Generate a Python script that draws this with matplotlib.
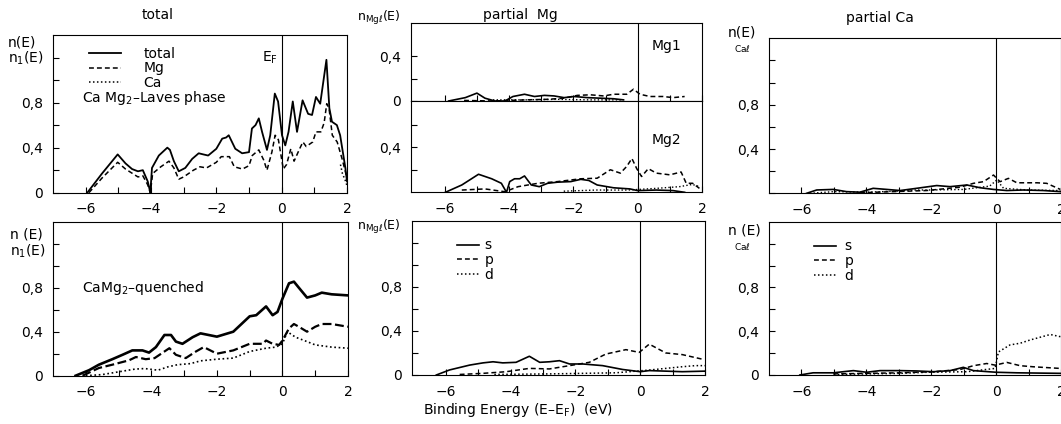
import matplotlib
matplotlib.use('Agg')
import matplotlib.pyplot as plt
from matplotlib.lines import Line2D

W, H = 1061, 424

# ---- total DOS, CaMg2 Laves phase (top left)
laves_tot_x = [-5.95, -5.5, -5.02, -4.78, -4.58, -4.4, -4.25, -4.1, -4.02, -3.97, -3.76, -3.5, -3.42, -3.3,
               -3.15, -2.95, -2.74, -2.54, -2.4, -2.25, -2.0, -1.82, -1.7, -1.62, -1.42, -1.21, -1.0, -0.91,
               -0.8, -0.7, -0.6, -0.45, -0.35, -0.21, -0.11, 0.01, 0.11, 0.21, 0.34, 0.47, 0.64, 0.81, 0.93,
               1.05, 1.18, 1.37, 1.46, 1.54, 1.69, 1.79, 1.95, 2.0]
laves_tot_y = [0.0, 0.17, 0.34, 0.26, 0.21, 0.19, 0.2, 0.1, 0.0, 0.22, 0.33, 0.4, 0.38, 0.28,
               0.19, 0.22, 0.3, 0.35, 0.34, 0.33, 0.39, 0.48, 0.49, 0.51, 0.39, 0.35, 0.36, 0.57,
               0.6, 0.66, 0.54, 0.38, 0.51, 0.88, 0.81, 0.51, 0.42, 0.54, 0.81, 0.54, 0.82, 0.7, 0.69,
               0.85, 0.79, 1.18, 0.75, 0.63, 0.6, 0.51, 0.22, 0.1]
laves_mg_x = [-5.9, -5.5, -5.02, -4.78, -4.4, -4.25, -4.1, -4.02, -3.95, -3.7, -3.45, -3.3, -3.15, -3.0,
              -2.7, -2.5, -2.3, -2.0, -1.85, -1.6, -1.45, -1.2, -1.0, -0.9, -0.7, -0.55, -0.45, -0.3, -0.2,
              -0.1, 0.05, 0.15, 0.28, 0.38, 0.55, 0.65, 0.75, 0.95, 1.05, 1.2, 1.3, 1.38, 1.45, 1.55, 1.7,
              1.85, 2.0]
laves_mg_y = [0.0, 0.13, 0.27, 0.21, 0.14, 0.15, 0.07, 0.0, 0.17, 0.23, 0.28, 0.22, 0.12, 0.14,
              0.2, 0.23, 0.22, 0.27, 0.32, 0.32, 0.23, 0.21, 0.24, 0.33, 0.38, 0.29, 0.2, 0.36, 0.51,
              0.47, 0.21, 0.25, 0.39, 0.28, 0.39, 0.45, 0.41, 0.45, 0.54, 0.54, 0.62, 0.79, 0.75, 0.51, 0.45,
              0.3, 0.13]
laves_ca_x = [1.8, 1.86, 1.96, 2.0]
laves_ca_y = [0.25, 0.17, 0.1, 0.06]

# ---- total DOS, quenched (bottom left)
q_tot_x = [-6.31, -5.9, -5.6, -5.19, -4.88, -4.58, -4.27, -4.07, -3.86, -3.6, -3.4, -3.25, -3.05, -2.74,
           -2.5, -2.0, -1.5, -1.0, -0.8, -0.5, -0.3, -0.15, 0.0, 0.2, 0.35, 0.5, 0.75, 1.0, 1.2, 1.5, 2.0]
q_tot_y = [0.0, 0.05, 0.1, 0.15, 0.19, 0.23, 0.23, 0.21, 0.26, 0.37, 0.37, 0.31, 0.29, 0.35,
           0.385, 0.355, 0.4, 0.54, 0.55, 0.63, 0.55, 0.58, 0.7, 0.84, 0.855, 0.8, 0.71, 0.73, 0.755, 0.74, 0.73]
q_mg_x = [-6.1, -5.6, -5.19, -4.68, -4.47, -4.17, -3.9, -3.6, -3.45, -3.25, -2.95, -2.64, -2.4, -2.0,
          -1.5, -1.0, -0.6, -0.5, -0.3, -0.1, 0.0, 0.2, 0.35, 0.5, 0.75, 1.0, 1.2, 1.5, 2.0]
q_mg_y = [0.0, 0.07, 0.1, 0.14, 0.17, 0.15, 0.16, 0.22, 0.25, 0.19, 0.16, 0.22, 0.26, 0.2,
          0.23, 0.29, 0.29, 0.32, 0.29, 0.28, 0.32, 0.43, 0.47, 0.445, 0.4, 0.445, 0.47, 0.47, 0.445]
q_ca_x = [-6.0, -5.5, -5.0, -4.5, -4.2, -3.8, -3.5, -3.2, -2.8, -2.5, -2.0, -1.5, -1.0, -0.5, -0.2, 0.0,
          0.15, 0.4, 0.75, 1.0, 1.5, 2.0]
q_ca_y = [0.0, 0.01, 0.035, 0.06, 0.065, 0.05, 0.08, 0.1, 0.11, 0.135, 0.15, 0.16, 0.22, 0.25, 0.26, 0.29,
          0.4, 0.35, 0.31, 0.28, 0.26, 0.25]

# ---- partial Mg, Laves phase: Mg1 and Mg2 sites
mg1_s_x = [-5.88, -5.36, -5.0, -4.75, -4.44, -4.13, -3.88, -3.52, -3.21, -2.9, -2.6, -2.29, -1.98, -1.57,
           -1.16, -0.75, -0.44]
mg1_s_y = [0.0, 0.03, 0.07, 0.025, 0.0, 0.0, 0.04, 0.06, 0.04, 0.05, 0.045, 0.03, 0.04, 0.03,
           0.025, 0.02, 0.01]
mg1_p_x = [-5.4, -4.5, -3.5, -2.8, -2.29, -1.88, -1.47, -1.06, -0.75, -0.34, -0.13, 0.07, 0.38, 0.79,
           1.1, 1.46]
mg1_p_y = [0.005, 0.0, 0.01, 0.015, 0.025, 0.05, 0.055, 0.045, 0.06, 0.06, 0.105, 0.06, 0.04, 0.04,
           0.03, 0.04]
mg1_d_x = [-4.5, -3.5, -2.5, -1.5, -0.5]
mg1_d_y = [0.01, 0.01, 0.015, 0.01, 0.01]
mg2_s_x = [-5.98, -5.47, -4.95, -4.54, -4.24, -4.08, -3.98, -3.83, -3.67, -3.52, -3.31, -3.06, -2.8, -2.49,
           -2.08, -1.77, -1.52, -1.26, -0.75, -0.24, 0.0, 0.58, 1.1, 1.46]
mg2_s_y = [0.0, 0.065, 0.16, 0.12, 0.08, 0.0, 0.095, 0.12, 0.12, 0.145, 0.065, 0.05, 0.08, 0.09,
           0.095, 0.115, 0.105, 0.065, 0.04, 0.03, 0.015, 0.02, 0.015, 0.0]
mg2_p_x = [-5.47, -4.75, -4.13, -3.72, -3.1, -2.49, -1.77, -1.26, -0.85, -0.54, -0.34, -0.18, -0.03, 0.12,
           0.33, 0.58, 1.0, 1.35, 1.51, 1.71, 1.92]
mg2_p_y = [0.02, 0.03, 0.005, 0.05, 0.08, 0.095, 0.12, 0.125, 0.2, 0.17, 0.23, 0.3, 0.21, 0.14,
           0.21, 0.17, 0.155, 0.18, 0.08, 0.08, 0.035]
mg2_d_x = [-2.3, -1.3, -0.3, 0.58, 1.3, 1.7, 1.92]
mg2_d_y = [0.01, 0.02, 0.02, 0.035, 0.05, 0.07, 0.05]

# ---- partial Mg, quenched
qmg_s_x = [-6.29, -5.88, -5.57, -5.26, -4.85, -4.54, -4.24, -3.83, -3.42, -3.1, -2.8, -2.49, -2.18, -1.77,
           -1.16, -0.54, 0.0, 0.28, 1.3, 2.0]
qmg_s_y = [0.0, 0.046, 0.068, 0.09, 0.11, 0.12, 0.11, 0.115, 0.17, 0.115, 0.12, 0.13, 0.1, 0.1,
           0.085, 0.05, 0.03, 0.04, 0.03, 0.035]
qmg_p_x = [-5.57, -4.85, -4.13, -3.42, -2.8, -2.18, -1.57, -1.06, -0.44, -0.03, 0.28, 0.79, 1.3, 1.97]
qmg_p_y = [0.005, 0.015, 0.03, 0.06, 0.055, 0.085, 0.115, 0.19, 0.23, 0.205, 0.28, 0.2, 0.185, 0.14]
qmg_d_x = [-4.5, -2.8, -0.75, 0.28, 1.3, 1.7, 2.0]
qmg_d_y = [0.005, 0.01, 0.02, 0.045, 0.075, 0.085, 0.085]

# ---- partial Ca, Laves phase
ca_s_x = [-5.84, -5.53, -5.02, -4.61, -4.2, -3.79, -3.37, -2.96, -2.45, -1.83, -1.42, -0.9, -0.49, -0.08,
          0.33, 0.84, 1.46, 1.98]
ca_s_y = [0.0, 0.03, 0.035, 0.015, 0.01, 0.045, 0.035, 0.025, 0.045, 0.07, 0.06, 0.075, 0.05, 0.035,
          0.025, 0.03, 0.025, 0.015]
ca_p_x = [-4.2, -2.14, -1.11, -0.7, -0.39, -0.08, 0.12, 0.38, 0.64, 1.26, 1.56, 1.98]
ca_p_y = [0.005, 0.025, 0.055, 0.09, 0.105, 0.165, 0.105, 0.135, 0.095, 0.095, 0.09, 0.035]
ca_d_x = [-5.74, -5.0, -4.0, -3.0, -2.5, -2.0, -1.0, -0.2, 0.02, 0.23, 0.95, 1.98]
ca_d_y = [0.0, 0.015, 0.01, 0.02, 0.03, 0.03, 0.035, 0.065, 0.12, 0.045, 0.03, 0.025]

# ---- partial Ca, quenched
qca_s_x = [-6.05, -5.64, -5.02, -4.4, -3.99, -3.58, -2.96, -2.45, -1.93, -1.42, -1.01, -0.7, 0.0, 0.64, 1.98]
qca_s_y = [0.0, 0.02, 0.02, 0.04, 0.025, 0.04, 0.04, 0.037, 0.03, 0.04, 0.07, 0.04, 0.025, 0.02, 0.015]
qca_p_x = [-5.02, -3.99, -2.96, -1.93, -1.11, -0.7, -0.29, -0.03, 0.33, 0.74, 1.15, 1.98]
qca_p_y = [0.01, 0.015, 0.02, 0.03, 0.05, 0.085, 0.105, 0.09, 0.115, 0.085, 0.075, 0.06]
qca_d_x = [-5.0, -2.96, -2.14, -0.9, -0.03, 0.07, 0.43, 0.74, 1.05, 1.67, 1.98]
qca_d_y = [0.005, 0.015, 0.025, 0.03, 0.06, 0.21, 0.275, 0.29, 0.32, 0.37, 0.35]

DASH = (0, (3.2, 2.0))
DOT = (0, (1.0, 1.6))
FS = 10


def add_ax(fig, left, top, right, bottom):
    # axes box given in pixels of the reference picture
    return fig.add_axes([left / W, 1 - bottom / H, (right - left) / W, (bottom - top) / H])


def style(ax, ymax, xlabels=True, xmin=-7.0):
    ax.set_xlim(xmin, 2)
    ax.set_ylim(0, ymax)
    ax.set_xticks([-6, -4, -2, 0, 2])
    ax.set_xticks([-5, -3, -1, 1], minor=True)
    if xlabels:
        ax.set_xticklabels(['\u22126', '\u22124', '\u22122', '0', '2'])
    else:
        ax.set_xticklabels([])
    ax.tick_params(which='both', direction='in', length=4, width=0.8, labelsize=FS,
                   top=False, right=False, pad=7)
    for s in ax.spines.values():
        s.set_linewidth(0.8)
    ax.axvline(0, color='k', lw=0.8)


fig = plt.figure(figsize=(W / 100, H / 100), dpi=100)
plt.rcParams['font.family'] = 'DejaVu Sans'

# ---------------- total, Laves
ax1 = add_ax(fig, 53, 35, 347, 192.7)
style(ax1, 1.4)
ax1.set_yticks([0, 0.4, 0.8])
ax1.set_yticklabels(['0', '0,4', '0,8'])
ax1.set_yticks([0.2, 0.6, 1.0, 1.2], minor=True)
ax1.plot(laves_tot_x, laves_tot_y, 'k-', lw=1.3)
ax1.plot(laves_mg_x, laves_mg_y, color='k', ls=DASH, lw=1.1)
ax1.plot(laves_ca_x, laves_ca_y, color='k', ls=DOT, lw=1.1)
hs = [Line2D([], [], color='k', lw=1.3), Line2D([], [], color='k', ls=DASH, lw=1.1),
      Line2D([], [], color='k', ls=DOT, lw=1.1)]
ax1.legend(hs, ['total', 'Mg', 'Ca'], loc='upper left', bbox_to_anchor=(0.1, 0.97), frameon=False,
           fontsize=FS, handlelength=2.3, handletextpad=1.6, labelspacing=0.05, borderpad=0)
ax1.text(0.1, 0.6, 'Ca Mg$_2$\u2013Laves phase', transform=ax1.transAxes, fontsize=FS, va='center')
ax1.text(-0.12, 1.2, r'E$_\mathrm{F}$', fontsize=FS, ha='right', va='center')
fig.text(158 / W, 1 - 15 / H, 'total', ha='center', va='center', fontsize=FS)
fig.text(8 / W, 1 - 42 / H, 'n(E)', ha='left', va='center', fontsize=FS)
fig.text(8 / W, 1 - 58 / H, 'n$_1$(E)', ha='left', va='center', fontsize=FS)

# ---------------- total, quenched
ax2 = add_ax(fig, 53, 221.7, 348, 375.7)
style(ax2, 1.4)
ax2.set_yticks([0, 0.4, 0.8])
ax2.set_yticklabels(['0', '0,4', '0,8'])
ax2.set_yticks([0.2, 0.6, 1.0, 1.2], minor=True)
ax2.plot(q_tot_x, q_tot_y, 'k-', lw=1.9)
ax2.plot(q_mg_x, q_mg_y, color='k', ls=(0, (4.0, 1.6)), lw=1.6)
ax2.plot(q_ca_x, q_ca_y, color='k', ls=DOT, lw=1.2)
ax2.text(0.1, 0.57, 'CaMg$_2$\u2013quenched', transform=ax2.transAxes, fontsize=FS, va='center')
fig.text(10 / W, 1 - 234 / H, 'n (E)', ha='left', va='center', fontsize=FS)
fig.text(10 / W, 1 - 251 / H, 'n$_1$(E)', ha='left', va='center', fontsize=FS)

# ---------------- partial Mg, Laves (Mg1 over Mg2)
ax3a = add_ax(fig, 411, 22.7, 702, 101)
style(ax3a, 0.696, xlabels=False, xmin=-7.05)
ax3a.set_yticks([0, 0.4])
ax3a.set_yticklabels(['0', '0,4'])
ax3a.set_yticks([0.2], minor=True)
ax3a.plot(mg1_s_x, mg1_s_y, 'k-', lw=1.2)
ax3a.plot(mg1_p_x, mg1_p_y, color='k', ls=DASH, lw=1.1)
ax3a.plot(mg1_d_x, mg1_d_y, color='k', ls=DOT, lw=1.0)
ax3a.text(0.93, 0.7, 'Mg1', transform=ax3a.transAxes, fontsize=FS, ha='right', va='center')

ax3b = add_ax(fig, 411, 101, 702, 192.3)
style(ax3b, 0.81, xmin=-7.05)
ax3b.set_yticks([0.4])
ax3b.set_yticklabels(['0,4'])
ax3b.set_yticks([0.2, 0.6], minor=True)
ax3b.plot(mg2_s_x, mg2_s_y, 'k-', lw=1.2)
ax3b.plot(mg2_p_x, mg2_p_y, color='k', ls=DASH, lw=1.1)
ax3b.plot(mg2_d_x, mg2_d_y, color='k', ls=DOT, lw=1.0)
ax3b.text(0.93, 0.57, 'Mg2', transform=ax3b.transAxes, fontsize=FS, ha='right', va='center')
fig.text(520 / W, 1 - 15 / H, 'partial  Mg', ha='center', va='center', fontsize=FS)
fig.text(357 / W, 1 - 18 / H, r'n$_{\mathrm{Mg}\ell}$(E)', ha='left', va='center', fontsize=9)

# ---------------- partial Mg, quenched
ax4 = add_ax(fig, 411.7, 220.7, 705, 375)
style(ax4, 1.4, xmin=-7.05)
ax4.set_yticks([0, 0.4, 0.8])
ax4.set_yticklabels(['0', '0,4', '0,8'])
ax4.set_yticks([0.2, 0.6, 1.0, 1.2], minor=True)
ax4.plot(qmg_s_x, qmg_s_y, 'k-', lw=1.2)
ax4.plot(qmg_p_x, qmg_p_y, color='k', ls=DASH, lw=1.1)
ax4.plot(qmg_d_x, qmg_d_y, color='k', ls=DOT, lw=1.1)
hs = [Line2D([], [], color='k', lw=1.2), Line2D([], [], color='k', ls=DASH, lw=1.1),
      Line2D([], [], color='k', ls=DOT, lw=1.1)]
ax4.legend(hs, ['s', 'p', 'd'], loc='upper left', bbox_to_anchor=(0.13, 0.93), frameon=False,
           fontsize=FS, handlelength=1.6, handletextpad=0.4, labelspacing=0.05, borderpad=0)
fig.text(357 / W, 1 - 227 / H, r'n$_{\mathrm{Mg}\ell}$(E)', ha='left', va='center', fontsize=9)

# ---------------- partial Ca, Laves
ax5 = add_ax(fig, 769, 38.3, 1061, 193.3)
style(ax5, 1.4)
ax5.set_yticks([0, 0.4, 0.8])
ax5.set_yticklabels(['', '0,4', '0,8'])
ax5.set_yticks([0.2, 0.6, 1.0, 1.2], minor=True)
ax5.plot(ca_s_x, ca_s_y, 'k-', lw=1.2)
ax5.plot(ca_p_x, ca_p_y, color='k', ls=DASH, lw=1.1)
ax5.plot(ca_d_x, ca_d_y, color='k', ls=DOT, lw=1.0)
fig.text(880 / W, 1 - 18 / H, 'partial Ca', ha='center', va='center', fontsize=FS)
fig.text(728 / W, 1 - 33 / H, 'n(E)', ha='left', va='center', fontsize=FS)
fig.text(734 / W, 1 - 49 / H, r'Ca$\ell$', ha='left', va='center', fontsize=6.5)

# ---------------- partial Ca, quenched
ax6 = add_ax(fig, 769, 221.7, 1061, 375)
style(ax6, 1.4)
ax6.set_yticks([0, 0.4, 0.8])
ax6.set_yticklabels(['0', '0,4', '0,8'])
ax6.set_yticks([0.2, 0.6, 1.0, 1.2], minor=True)
ax6.plot(qca_s_x, qca_s_y, 'k-', lw=1.2)
ax6.plot(qca_p_x, qca_p_y, color='k', ls=DASH, lw=1.1)
ax6.plot(qca_d_x, qca_d_y, color='k', ls=DOT, lw=1.1)
ax6.legend(hs, ['s', 'p', 'd'], loc='upper left', bbox_to_anchor=(0.13, 0.93), frameon=False,
           fontsize=FS, handlelength=1.6, handletextpad=0.6, labelspacing=0.05, borderpad=0)
fig.text(728 / W, 1 - 231 / H, 'n (E)', ha='left', va='center', fontsize=FS)
fig.text(734 / W, 1 - 246 / H, r'Ca$\ell$', ha='left', va='center', fontsize=6.5)

fig.text(518 / W, 1 - 410 / H, 'Binding Energy (E\u2013E$_\\mathrm{F}$)  (eV)', ha='center', va='center',
         fontsize=FS)

fig.savefig('out.png', dpi=100)
